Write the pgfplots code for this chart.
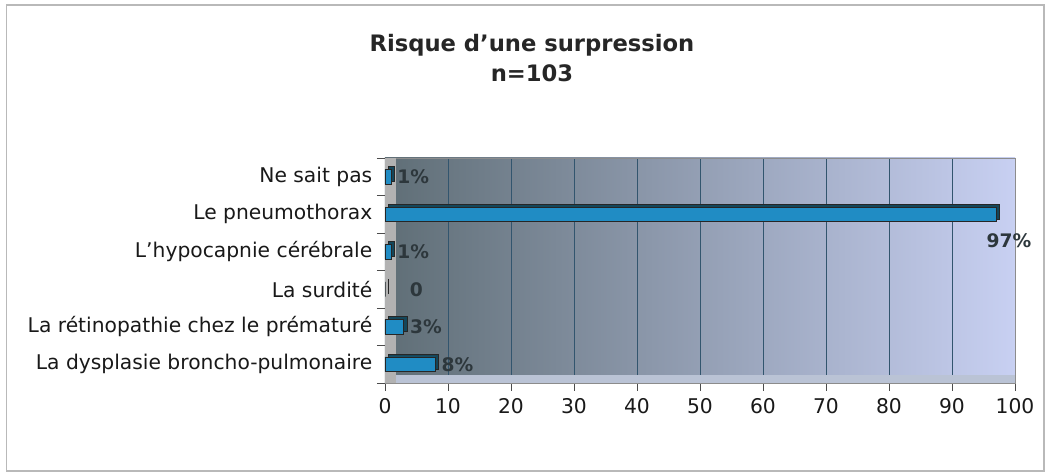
\documentclass[border=0pt]{standalone}
\usepackage{pgfplots}
\pgfplotsset{compat=1.18}
\usepackage{fontspec}
\setmainfont{DejaVu Sans}
\definecolor{barblue}{RGB}{32,140,196}
\definecolor{bardark}{RGB}{20,70,90}
\definecolor{labgray}{RGB}{45,55,60}
\definecolor{bgleft}{RGB}{95,110,118}
\definecolor{bgmid}{RGB}{140,155,185}
\definecolor{bgright}{RGB}{200,208,242}
\definecolor{gridc}{RGB}{50,85,110}
\begin{document}
\begin{tikzpicture}[x=1pt,y=1pt]
\path[use as bounding box] (0,0) rectangle (787.5,356.25);
\draw[gray!55, line width=0.8pt] (5,3) rectangle (783,352.5);
\node[font=\bfseries\fontsize{17}{19}\selectfont, color=black!85] at (399,322) {Risque d'une surpression};
\node[font=\bfseries\fontsize{17}{19}\selectfont, color=black!85] at (399,301) {n=103};
\begin{axis}[
  at={(288.75pt,69pt)}, anchor=south west,
  width=472.5pt, height=168.75pt, scale only axis,
  xmin=0, xmax=100, ymin=-0.5, ymax=5.5,
  xbar, bar width=11pt, bar shift=0pt,
  axis background/.style={left color=bgleft, middle color=bgmid, right color=bgright},
  xtick={0,10,...,100},
  ytick={0,...,5},
  xtick pos=bottom, ytick pos=left,
  yticklabels={La dysplasie broncho-pulmonaire, La rétinopathie chez le prématuré, La surdité, L’hypocapnie cérébrale, Le pneumothorax, Ne sait pas},
  minor ytick={-0.5,0.5,...,5.5},
  major y tick style={draw=none},
  minor y tick style={draw=black!70, thin},
  major x tick style={draw=black!70, thin},
  tick align=outside,
  minor tick length=6pt, major tick length=6pt,
  xmajorgrids, major grid style={draw=gridc, line width=0.5pt},
  axis line style={draw=black!45},
  ticklabel style={font=\fontsize{15.2}{17}\selectfont, color=black!90},
  xticklabel style={yshift=-2pt},
  /pgf/number format/assume math mode=true,
  point meta=explicit symbolic,
  every node near coord/.append style={font=\bfseries\fontsize{14}{16}\selectfont, color=labgray, anchor=west, xshift=1pt},
  clip=false,
]
\fill[black!30] (axis description cs:0,0) rectangle (axis description cs:0.018,1);
\fill[bgmid!60] (axis description cs:0.018,0) rectangle (axis description cs:1,0.035);
\addplot[fill=bardark, draw=black!85, line width=0.6pt, xshift=2.5pt, yshift=2pt] table {
x y
8 0
3 1
0 2
1 3
97 4
1 5
};
\addplot[fill=barblue, draw=black!85, line width=0.6pt, nodes near coords] table[meta=lab] {
x y lab
8 0 8\%
3 1 3\%
1 3 1\%
1 5 1\%
};
\addplot[fill=barblue, draw=black!85, line width=0.6pt, nodes near coords,
  every node near coord/.append style={xshift=14pt}] table[meta=lab] {
x y lab
0 2 0
};
\addplot[fill=barblue, draw=black!85, line width=0.6pt, nodes near coords,
  every node near coord/.append style={anchor=north east, xshift=29pt, yshift=-11pt}] table[meta=lab] {
x y lab
97 4 97\%
};
\end{axis}
\end{tikzpicture}
\end{document}
